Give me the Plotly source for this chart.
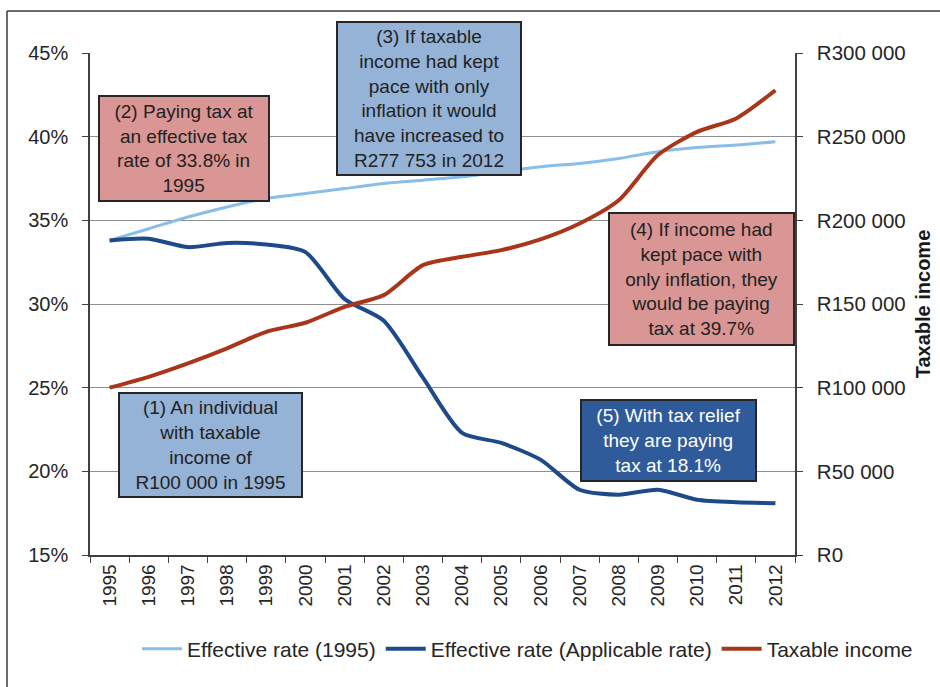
import plotly.graph_objects as go

years = [str(y) for y in range(1995, 2013)]
effective_1995 = [33.8, 34.5, 35.2, 35.8, 36.3, 36.6, 36.9, 37.2, 37.4, 37.6,
                  37.9, 38.2, 38.4, 38.7, 39.1, 39.35, 39.5, 39.7]
effective_applicable = [33.8, 33.9, 33.4, 33.65, 33.55, 33.1, 30.3, 29.0, 25.6, 22.3,
                        21.7, 20.7, 18.9, 18.6, 18.9, 18.3, 18.15, 18.1]
taxable_income = [100000, 106500, 114500, 123500, 133400, 138800, 148300, 155300, 173200, 178200,
                  182200, 188600, 198100, 212000, 239000, 252900, 260900, 277753]

left_ticks = [15, 20, 25, 30, 35, 40, 45]
left_ticktext = ["15%", "20%", "25%", "30%", "35%", "40%", "45%"]
right_ticks = [0, 50000, 100000, 150000, 200000, 250000, 300000]
right_ticktext = ["R0", "R50 000", "R100 000", "R150 000", "R200 000", "R250 000", "R300 000"]

FONT = "Liberation Sans, Arial, sans-serif"

fig = go.Figure()
fig.add_trace(go.Scatter(x=years, y=effective_1995, name="Effective rate (1995)",
                         mode="lines", line=dict(color="#88BEE8", width=3, shape="spline", smoothing=0.7)))
fig.add_trace(go.Scatter(x=years, y=effective_applicable, name="Effective rate (Applicable rate)",
                         mode="lines", line=dict(color="#1F4A8A", width=4, shape="spline", smoothing=0.7)))
fig.add_trace(go.Scatter(x=years, y=taxable_income, name="Taxable income", yaxis="y2",
                         mode="lines", line=dict(color="#A8361A", width=4, shape="spline", smoothing=0.7)))

L, R, T, B = 90, 145, 53, 132
W, H = 940, 687
pw, ph = W - L - R, H - T - B


def px(x):
    return (x - L) / pw


def py(y):
    return (H - B - y) / ph


def box(text, x0, y0, x1, y1, fill, fcolor="#222222"):
    return dict(
        text=text, xref="paper", yref="paper",
        x=px((x0 + x1) / 2), y=py((y0 + y1) / 2), xanchor="center", yanchor="middle",
        showarrow=False, align="center",
        width=x1 - x0 - 10, height=y1 - y0 - 10,
        bgcolor=fill, bordercolor="#262626", borderwidth=2, borderpad=3,
        font=dict(family=FONT, size=19, color=fcolor),
    )


pink = "#D99694"
lblue = "#95B3D7"
dblue = "#2F5B9A"

annotations = [
    box("(1) An individual<br>with taxable<br>income of<br>R100 000 in 1995", 118, 392, 303, 498, lblue),
    box("(2) Paying tax at<br>an effective tax<br>rate of 33.8% in<br>1995", 98, 95, 270, 202, pink),
    box("(3) If taxable<br>income had kept<br>pace with only<br>inflation it would<br>have increased to<br>R277 753 in 2012",
        336, 21, 522, 176, lblue),
    box("(4) If income had<br>kept pace with<br>only inflation, they<br>would be paying<br>tax at 39.7%",
        608, 212, 795, 346, pink),
    box("(5) With tax relief<br>they are paying<br>tax at 18.1%", 580, 399, 757, 482, dblue, "#FFFFFF"),
]

shapes = [
    dict(type="line", xref="paper", yref="paper", x0=px(7), x1=px(7), y0=py(11), y1=py(700),
         line=dict(color="#3a3a3a", width=1.5)),
    dict(type="line", xref="paper", yref="paper", x0=px(7), x1=px(945), y0=py(11), y1=py(11),
         line=dict(color="#3a3a3a", width=1.5)),
]

fig.update_layout(
    width=W, height=H,
    margin=dict(l=L, r=R, t=T, b=B, autoexpand=False),
    paper_bgcolor="white", plot_bgcolor="white",
    font=dict(family=FONT, size=20, color="#262626"),
    showlegend=True,
    legend=dict(orientation="h", x=px(918), xanchor="right", y=py(649), yanchor="middle",
                font=dict(family=FONT, size=21, color="#262626"), itemwidth=40,
                traceorder="normal", bgcolor="rgba(0,0,0,0)"),
    xaxis=dict(type="category", range=[-0.5, 17.5], tickangle=-90, tickson="boundaries",
               ticks="outside", ticklen=6, automargin=False,
               tickcolor="#404040", showline=True, linecolor="#404040", linewidth=1.5,
               showgrid=False, tickfont=dict(size=19), zeroline=False),
    yaxis=dict(range=[15, 45], tickvals=left_ticks, ticktext=left_ticktext, ticks="outside", ticklen=6,
               tickcolor="#404040", showline=True, linecolor="#404040", linewidth=1.5, automargin=False,
               showgrid=True, gridcolor="#8F8F8F", gridwidth=1, zeroline=False,
               tickfont=dict(size=20), ticklabelstandoff=10),
    yaxis2=dict(range=[0, 300000], tickvals=right_ticks, ticktext=right_ticktext, overlaying="y",
                side="right", ticks="outside", ticklen=6, tickcolor="#404040", showline=True,
                linecolor="#404040", linewidth=1.5, showgrid=False, zeroline=False, automargin=False,
                tickfont=dict(size=20.5), ticklabelstandoff=10,
                title=dict(text="<b>Taxable income</b>", font=dict(size=20, color="#1a1a1a"), standoff=11)),
    annotations=annotations,
    shapes=shapes,
)

fig.write_html("out.html", post_script="document.body.style.margin='0';",
               config={"displayModeBar": False})
